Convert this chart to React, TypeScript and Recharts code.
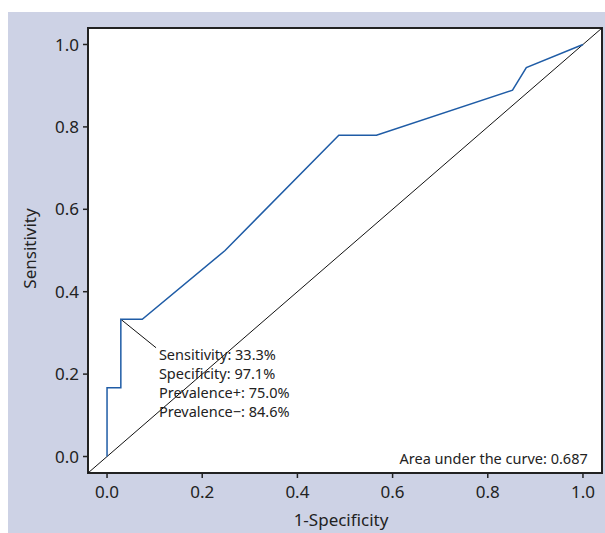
import React from 'react';
import {
  ComposedChart, Line, XAxis, YAxis, ReferenceArea, ReferenceDot, Label,
} from 'recharts';

// ROC curve values
const fpr = [0, 0, 0.029, 0.029, 0.074, 0.248, 0.487, 0.566, 0.852, 0.881, 1];
const tpr = [0, 0.167, 0.167, 0.333, 0.333, 0.5, 0.78, 0.78, 0.889, 0.944, 1];
// reference diagonal (chance line) spanning the axis domain
const diagX = [-0.04, 1.04];
const diagY = [-0.04, 1.04];
// annotation connector
const leaderX = [0.029, 0.103];
const leaderY = [0.333, 0.264];
const axisTicks = [0, 0.2, 0.4, 0.6, 0.8, 1.0];
const annotationLines = [
  'Sensitivity: 33.3%',
  'Specificity: 97.1%',
  'Prevalence+: 75.0%',
  'Prevalence\u2212: 84.6%',
];
const aucText = 'Area under the curve: 0.687';

const rocData = fpr.map((x, i) => ({ x, y: tpr[i] }));
const diagData = diagX.map((x, i) => ({ x, y: diagY[i] }));
const leaderData = leaderX.map((x, i) => ({ x, y: leaderY[i] }));

const FONT = '"Noto Sans", sans-serif';

const AnnotationContent = (props: any) => {
  const vb = props.viewBox || {};
  const x = vb.x ?? 0;
  const y = vb.y ?? 0;
  return (
    <text x={x} y={y} fontFamily={FONT} fontSize={14.5} fill="#222">
      {annotationLines.map((t, i) => (
        <tspan key={i} x={x} y={y + 9 + i * 19}>{t}</tspan>
      ))}
    </text>
  );
};

const AucContent = (props: any) => {
  const vb = props.viewBox || {};
  return (
    <text x={vb.x} y={vb.y} fontFamily={FONT} fontSize={14.5} fill="#222" textAnchor="end">
      {aucText}
    </text>
  );
};

export default function App() {
  return (
    <div style={{ position: 'absolute', left: 8, top: 12, width: 597, height: 521, background: '#cdd2e5' }}>
      <ComposedChart
        width={597}
        height={521}
        margin={{ top: 16, right: 3, bottom: 0, left: 0 }}
      >
        <ReferenceArea
          x1={-0.04} x2={1.04} y1={-0.04} y2={1.04}
          fill="#ffffff" fillOpacity={1} stroke="none"
          ifOverflow="visible"
        />
        <XAxis
          type="number"
          dataKey="x"
          domain={[-0.04, 1.04]}
          ticks={axisTicks}
          allowDataOverflow
          height={60}
          axisLine={false}
          tickLine={{ stroke: '#222', strokeWidth: 1.5 }}
          tickSize={5}
          tickMargin={8}
          tick={{ fill: '#222', fontSize: 17, fontFamily: FONT }}
          tickFormatter={(v: number) => v.toFixed(1)}
        >
          <Label
            value="1-Specificity"
            position="insideBottom"
            offset={7}
            dx={-4}
            style={{ fill: '#222', fontSize: 17, fontFamily: FONT }}
          />
        </XAxis>
        <YAxis
          type="number"
          dataKey="y"
          domain={[-0.04, 1.04]}
          ticks={axisTicks}
          allowDataOverflow
          width={80}
          axisLine={false}
          tickLine={{ stroke: '#222', strokeWidth: 1.5 }}
          tickSize={5}
          tickMargin={4}
          tick={{ fill: '#222', fontSize: 17, fontFamily: FONT }}
          tickFormatter={(v: number) => v.toFixed(1)}
        >
          <Label
            value="Sensitivity"
            angle={-90}
            position="insideLeft"
            offset={22}
            dy={-2}
            style={{ fill: '#222', fontSize: 17, fontFamily: FONT, textAnchor: 'middle' }}
          />
        </YAxis>
        <Line
          data={diagData}
          dataKey="y"
          type="linear"
          stroke="#111"
          strokeWidth={1}
          dot={false}
          isAnimationActive={false}
        />
        <Line
          data={leaderData}
          dataKey="y"
          type="linear"
          stroke="#111"
          strokeWidth={1}
          dot={false}
          isAnimationActive={false}
        />
        <Line
          data={rocData}
          dataKey="y"
          type="linear"
          stroke="#1f5ca6"
          strokeWidth={1.5}
          dot={false}
          isAnimationActive={false}
        />
        <ReferenceDot x={0.109} y={0.255} r={0} fill="none" stroke="none" ifOverflow="visible"
          label={{ content: AnnotationContent }} />
        <ReferenceDot x={1.01} y={-0.018} r={0} fill="none" stroke="none" ifOverflow="visible"
          label={{ content: AucContent }} />
        <ReferenceArea
          x1={-0.04} x2={1.04} y1={-0.04} y2={1.04}
          fill="none" stroke="#222" strokeWidth={2}
          ifOverflow="visible"
        />
      </ComposedChart>
    </div>
  );
}
